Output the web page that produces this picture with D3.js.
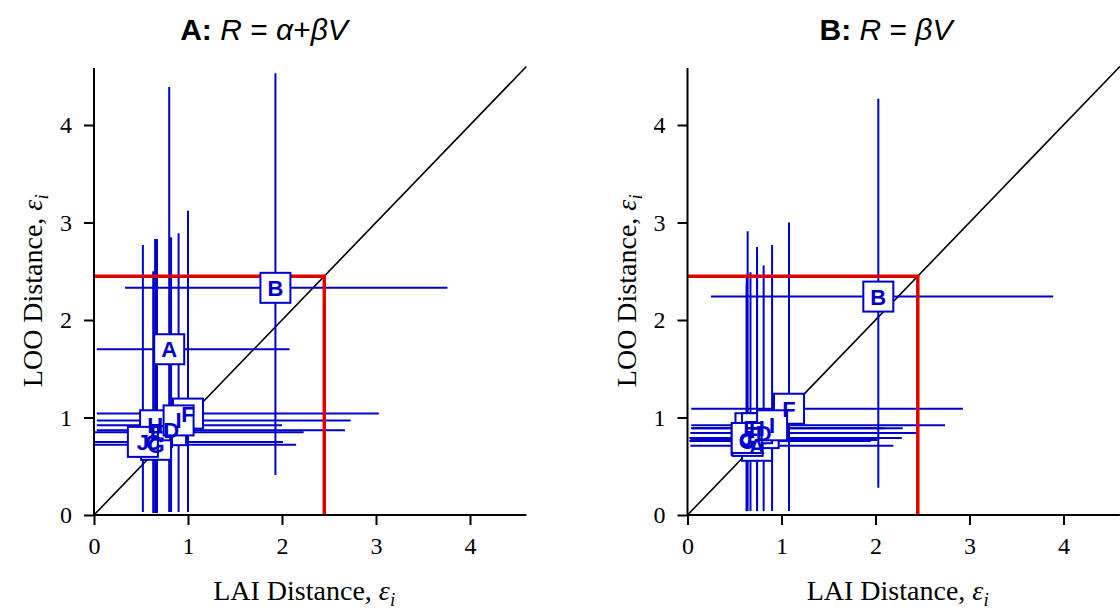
<!DOCTYPE html>
<html>
<head>
<meta charset="utf-8">
<script src="https://cdn.jsdelivr.net/npm/d3@7"></script>
<style>
  body { margin: 0; background: #fff; }
  svg { display: block; }
</style>
</head>
<body>
<svg id="chart" width="1120" height="610"></svg>
<script>
// Station labels
const pointLabels = ["A", "B", "C", "D", "E", "F", "G", "H", "I", "J"];

// Model A: R = α + βV  (LAI distance on x, LOO distance on y, with ranges)
const fullX   = [0.80, 1.93, 0.63, 0.82, 0.67, 1.00, 0.66, 0.65, 0.90, 0.52];
const fullY   = [1.70, 2.33, 0.75, 0.87, 0.85, 1.04, 0.72, 0.92, 0.97, 0.75];
const fullXLo = [0.03, 0.33, 0.00, 0.03, 0.00, 0.03, 0.00, 0.03, 0.03, 0.00];
const fullXHi = [2.08, 3.76, 1.90, 2.67, 2.23, 3.03, 2.15, 2.00, 2.73, 2.01];
const fullYLo = [0.03, 0.41, 0.02, 0.03, 0.02, 0.03, 0.02, 0.02, 0.03, 0.03];
const fullYHi = [4.39, 4.53, 2.50, 2.85, 2.83, 3.12, 2.83, 2.83, 2.89, 2.77];

// Model B: R = βV
const propX   = [0.74, 2.03, 0.63, 0.81, 0.67, 1.08, 0.64, 0.74, 0.90, 0.63];
const propY   = [0.71, 2.24, 0.77, 0.84, 0.89, 1.09, 0.76, 0.89, 0.92, 0.79];
const propXLo = [0.03, 0.25, 0.03, 0.03, 0.04, 0.04, 0.02, 0.04, 0.04, 0.02];
const propXHi = [2.19, 3.89, 2.02, 2.45, 2.10, 2.93, 1.95, 2.29, 2.74, 2.28];
const propYLo = [0.04, 0.28, 0.04, 0.04, 0.04, 0.04, 0.04, 0.04, 0.04, 0.04];
const propYHi = [2.75, 4.27, 2.43, 2.56, 2.49, 3.00, 2.91, 2.49, 2.77, 2.36];

// Axes
const majorTicks = [0, 1, 2, 3, 4];
const minorTicks = [0.2, 0.4, 0.6, 0.8, 1.2, 1.4, 1.6, 1.8, 2.2, 2.4, 2.6, 2.8, 3.2, 3.4, 3.6, 3.8, 4.2, 4.4];
const axisMax = 4.6;
const threshold = 2.45;

const BLUE = "#0000cc";
const RED = "#e00000";
const SERIF = "'Liberation Serif', 'Times New Roman', serif";
const SANS = "'Liberation Sans', Arial, sans-serif";

function rows(xs, ys, xlo, xhi, ylo, yhi) {
  return pointLabels.map((lab, i) => ({
    lab, x: xs[i], y: ys[i], xlo: xlo[i], xhi: xhi[i], ylo: ylo[i], yhi: yhi[i]
  }));
}

const panels = [
  {
    left: 94, titleX: 264,
    title: [["A:", "bold", "normal"], [" ", "normal", "normal"], ["R", "normal", "italic"],
            [" = ", "normal", "normal"], ["α", "normal", "italic"], ["+", "normal", "normal"],
            ["β", "normal", "italic"], ["V", "normal", "italic"]],
    data: rows(fullX, fullY, fullXLo, fullXHi, fullYLo, fullYHi)
  },
  {
    left: 687.5, titleX: 886,
    title: [["B:", "bold", "normal"], [" ", "normal", "normal"], ["R", "normal", "italic"],
            [" = ", "normal", "normal"], ["β", "normal", "italic"], ["V", "normal", "italic"]],
    data: rows(propX, propY, propXLo, propXHi, propYLo, propYHi)
  }
];

const svg = d3.select("#chart");
const plotW = 432.4, plotTop = 66.5, plotBottom = 515;

panels.forEach(p => {
  const g = svg.append("g").attr("transform", `translate(${p.left},0)`);
  const x = d3.scaleLinear().domain([0, axisMax]).range([0, plotW]);
  const y = d3.scaleLinear().domain([0, axisMax]).range([plotBottom, plotTop]);

  // title
  const t = svg.append("text")
    .attr("x", p.titleX).attr("y", 40)
    .attr("text-anchor", "middle")
    .style("font-family", SANS).style("font-size", "30px").attr("fill", "#000");
  p.title.forEach(([s, w, st]) => {
    t.append("tspan").text(s).style("font-weight", w).style("font-style", st);
  });

  // 1:1 line
  g.append("line")
    .attr("x1", x(0)).attr("y1", y(0)).attr("x2", x(axisMax)).attr("y2", y(axisMax))
    .attr("stroke", "#000").attr("stroke-width", 1.6);

  // error ranges
  const bars = g.append("g").attr("stroke", BLUE).attr("stroke-width", 2);
  bars.selectAll("line.h").data(p.data).join("line").attr("class", "h")
    .attr("x1", d => x(d.xlo)).attr("x2", d => x(d.xhi))
    .attr("y1", d => y(d.y)).attr("y2", d => y(d.y));
  bars.selectAll("line.v").data(p.data).join("line").attr("class", "v")
    .attr("x1", d => x(d.x)).attr("x2", d => x(d.x))
    .attr("y1", d => y(d.ylo)).attr("y2", d => y(d.yhi));

  // threshold
  g.append("path")
    .attr("d", `M${x(0)},${y(threshold)}H${x(threshold)}V${y(0)}`)
    .attr("fill", "none").attr("stroke", RED).attr("stroke-width", 3.5);

  // marker boxes first, then every letter on top of them
  g.append("g").selectAll("rect").data(p.data).join("rect")
    .attr("x", d => x(d.x) - 15).attr("y", d => y(d.y) - 15)
    .attr("width", 30).attr("height", 30)
    .attr("fill", "#fff").attr("stroke", BLUE).attr("stroke-width", 2);
  g.append("g").selectAll("text").data(p.data).join("text")
    .text(d => d.lab)
    .attr("x", d => x(d.x)).attr("y", d => y(d.y) + 8)
    .attr("text-anchor", "middle")
    .style("font-family", SANS).style("font-weight", "bold").style("font-size", "22px")
    .attr("fill", BLUE);

  // axes
  const xAxis = g.append("g").attr("transform", `translate(0,${plotBottom})`);
  xAxis.call(d3.axisBottom(x).tickValues(minorTicks).tickSize(5).tickFormat(""));
  xAxis.call(d3.axisBottom(x).tickValues(majorTicks).tickSize(10).tickPadding(12).tickFormat(d3.format("d")));
  const yAxis = g.append("g").attr("transform", `translate(${x(0)},0)`);
  yAxis.call(d3.axisLeft(y).tickValues(minorTicks).tickSize(5).tickFormat(""));
  yAxis.call(d3.axisLeft(y).tickValues(majorTicks).tickSize(10).tickPadding(12).tickFormat(d3.format("d")));
  [xAxis, yAxis].forEach(a => {
    a.selectAll(".domain").remove();
    a.selectAll("line").attr("stroke", "#000").attr("stroke-width", 2);
    a.selectAll("text").style("font-family", SERIF).style("font-size", "24px").attr("fill", "#000");
  });
  g.append("line").attr("x1", x(0)).attr("x2", x(axisMax)).attr("y1", plotBottom).attr("y2", plotBottom)
    .attr("stroke", "#000").attr("stroke-width", 2);
  g.append("line").attr("x1", x(0)).attr("x2", x(0)).attr("y1", plotBottom).attr("y2", plotTop + 1.5)
    .attr("stroke", "#000").attr("stroke-width", 2);

  // axis titles
  const xl = g.append("text").attr("x", plotW / 2 - 6).attr("y", 600)
    .attr("text-anchor", "middle")
    .style("font-family", SERIF).style("font-size", "28px").attr("fill", "#000");
  xl.append("tspan").text("LAI Distance,  ");
  xl.append("tspan").text("ε").style("font-style", "italic");
  xl.append("tspan").text("i").style("font-style", "italic").style("font-size", "19px").attr("dy", 6);

  const yl = g.append("text")
    .attr("transform", `translate(-52,${(plotBottom + plotTop) / 2}) rotate(-90)`)
    .attr("text-anchor", "middle")
    .style("font-family", SERIF).style("font-size", "28px").attr("fill", "#000");
  yl.append("tspan").text("LOO Distance,  ");
  yl.append("tspan").text("ε").style("font-style", "italic");
  yl.append("tspan").text("i").style("font-style", "italic").style("font-size", "19px").attr("dy", 6);
});
</script>
</body>
</html>
